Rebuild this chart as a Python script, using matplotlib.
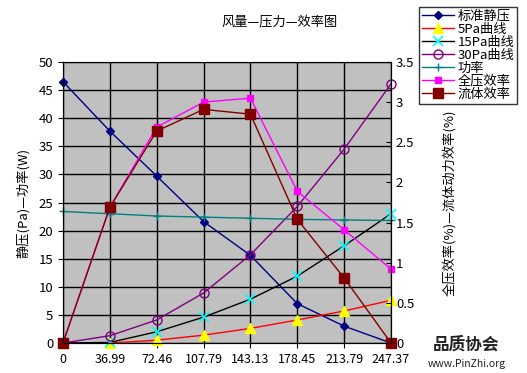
import matplotlib.pyplot as plt

plt.rcParams['font.family'] = ['Noto Sans CJK SC', 'DejaVu Sans']

# air flow categories
flow = ["0", "36.99", "72.46", "107.79", "143.13", "178.45", "213.79", "247.37"]

# left axis series (Pa / W)
static_p = [46.5, 37.7, 29.7, 21.6, 15.6, 7.0, 3.0, 0.0]
curve_5pa = [0.0, 0.0, 0.5, 1.4, 2.6, 4.1, 5.7, 7.6]
curve_15pa = [0.0, 0.1, 2.0, 4.6, 7.8, 11.9, 17.3, 23.0]
curve_30pa = [0.0, 1.3, 4.1, 8.9, 15.7, 24.3, 34.5, 46.1]
power = [23.4, 23.0, 22.6, 22.4, 22.2, 22.0, 21.9, 21.8]

# right axis series (%)
total_eff = [0.0, 1.69, 2.69, 3.0, 3.05, 1.89, 1.41, 0.92]
fluid_eff = [0.0, 1.69, 2.64, 2.91, 2.85, 1.54, 0.81, 0.0]

x = list(range(len(flow)))

fig = plt.figure(figsize=(5.27, 3.73), dpi=100)
ax = fig.add_axes([0.1195, 0.0804, 0.6225, 0.7534])
ax.set_facecolor('#C0C0C0')

l1, = ax.plot(x, static_p, color='#000080', marker='D', markersize=4.5, lw=1, label='标准静压', clip_on=False)
l2, = ax.plot(x, curve_5pa, color='red', marker='^', markersize=7, mfc='yellow', mec='yellow', lw=1, label='5Pa曲线', clip_on=False)
l3, = ax.plot(x, curve_15pa, color='black', marker='x', markersize=7, mec='cyan', mew=1.2, lw=1, label='15Pa曲线', clip_on=False)
l4, = ax.plot(x, curve_30pa, color='#800080', marker='o', markersize=6.5, mfc='none', mec='#800080', lw=1, label='30Pa曲线', clip_on=False)
l5, = ax.plot(x, power, color='#008080', marker='+', markersize=6, lw=1, label='功率', clip_on=False)

ax.set_xlim(0, 7)
ax.set_ylim(0, 50)
ax.set_yticks(range(0, 51, 5))
ax.set_xticks(x)
ax.set_xticklabels(flow, fontsize=9)
ax.tick_params(axis='y', labelsize=9.5)
ax.grid(True, color='black', lw=1)
ax.set_axisbelow(True)
ax.set_ylabel('静压(Pa)—功率(W)', fontsize=9.5, labelpad=6)
for s in ax.spines.values():
    s.set_color('black')
ax.spines['top'].set_color('#808080')

ax2 = ax.twinx()
l6, = ax2.plot(x, total_eff, color='#FF00FF', marker='s', markersize=4.5, lw=1, label='全压效率', clip_on=False)
l7, = ax2.plot(x, fluid_eff, color='#800000', marker='s', markersize=7, lw=1, label='流体效率', clip_on=False)
ax2.set_ylim(0, 3.5)
ax2.set_yticks([0, 0.5, 1, 1.5, 2, 2.5, 3, 3.5])
ax2.set_yticklabels(['0', '0.5', '1', '1.5', '2', '2.5', '3', '3.5'])
ax2.tick_params(axis='y', labelsize=9.5, direction='in')
ax2.set_ylabel('全压效率(%)—流体动力效率(%)', fontsize=9.5, labelpad=20)

fig.text(0.53, 0.94, '风量—压力—效率图', ha='center', va='center', fontsize=9.5)

handles = [l1, l2, l3, l4, l5, l6, l7]
leg = fig.legend(handles, [h.get_label() for h in handles], loc='upper left',
                 bbox_to_anchor=(0.783, 0.998), fontsize=9.5, frameon=True,
                 fancybox=False, edgecolor='black', borderpad=0.2,
                 labelspacing=0.0, handlelength=2.4, handletextpad=0.3)
leg.get_frame().set_linewidth(1)

fig.text(0.885, 0.075, '品质协会', ha='center', va='center', fontsize=12, fontweight='bold', color='#222222')
fig.text(0.885, 0.025, 'www.PinZhi.org', ha='center', va='center', fontsize=7.5, color='#222222')

fig.savefig('out.png', dpi=100)
